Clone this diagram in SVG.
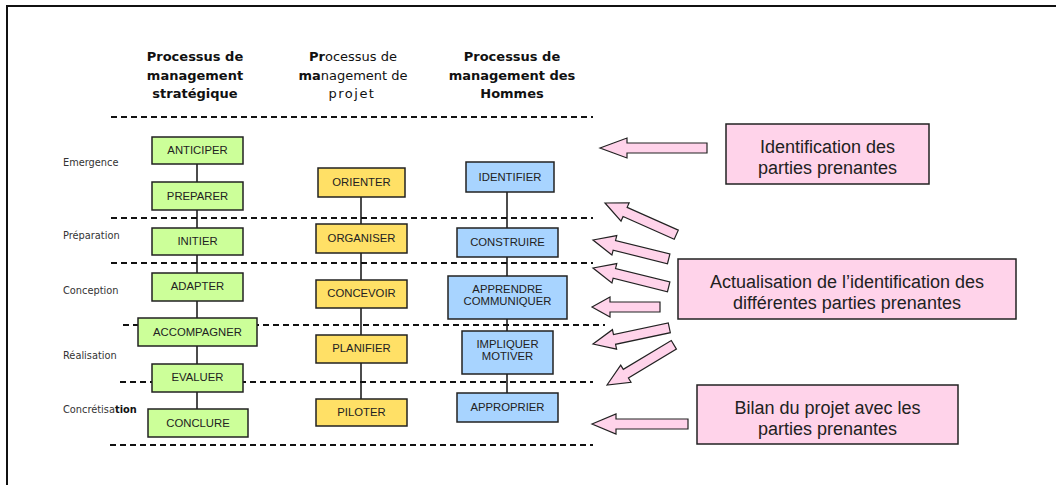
<svg xmlns="http://www.w3.org/2000/svg" width="1056" height="485" viewBox="0 0 1056 485">
<style>
.frame{fill:none;stroke:#111;stroke-width:2}
.dash{stroke:#111;stroke-width:2;stroke-dasharray:6,4;fill:none}
.vl{stroke:#111;stroke-width:1.5}
.hdr{font-family:"DejaVu Sans",sans-serif;font-size:13px;font-weight:bold;fill:#111;text-anchor:middle}
.hdrn{font-weight:normal}
.ph{font-family:"DejaVu Sans",sans-serif;font-size:9.8px;fill:#333}
.g{fill:#ccff99;stroke:#222;stroke-width:1.5}
.y{fill:#ffe066;stroke:#222;stroke-width:1.5}
.b{fill:#a8d4ff;stroke:#222;stroke-width:1.5}
.p{fill:#ffd3ea;stroke:#222;stroke-width:1.5}
.bt{font-family:"Liberation Sans",Arial,sans-serif;font-size:11.3px;fill:#222;text-anchor:middle}
.pt{font-family:"Liberation Sans",Arial,sans-serif;font-size:18px;fill:#222;text-anchor:middle}
.arr{fill:#ffd3ea;stroke:#222;stroke-width:1.2;stroke-linejoin:miter}
</style>
<rect x="0" y="0" width="1056" height="485" fill="#fff"/>
<path class="frame" d="M7,486 V6 H1057"/>

<g id="headers">
<text class="hdr" x="195" y="61">Processus de</text>
<text class="hdr" x="195" y="79.5">management</text>
<text class="hdr" x="195" y="98">stratégique</text>
<text class="hdr" x="353" y="61">Pr<tspan class="hdrn">ocessus de</tspan></text>
<text class="hdr" x="353" y="79.5">ma<tspan class="hdrn">nagement de</tspan></text>
<text class="hdr hdrn" x="352" y="98" letter-spacing="1.5">projet</text>
<text class="hdr" x="512" y="61">Processus de</text>
<text class="hdr" x="512" y="79.5">management des</text>
<text class="hdr" x="512" y="98">Hommes</text>
</g>

<g id="phases">
<text class="ph" x="63" y="166">Emergence</text>
<text class="ph" x="63" y="239">Préparation</text>
<text class="ph" x="63" y="294">Conception</text>
<text class="ph" x="63" y="359">Réalisation</text>
<text class="ph" x="63" y="413">Concrétisa<tspan font-weight="bold" fill="#111">tion</tspan></text>
</g>

<g id="separators">
<line class="dash" x1="111" y1="117" x2="593" y2="117"/>
<line class="dash" x1="111" y1="218" x2="593" y2="218"/>
<line class="dash" x1="111" y1="263" x2="593" y2="263"/>
<line class="dash" x1="123" y1="325" x2="605" y2="325"/>
<line class="dash" x1="120" y1="382" x2="593" y2="382"/>
<line class="dash" x1="110" y1="445" x2="593" y2="445"/>
</g>

<g id="connectors">
<line class="vl" x1="197" y1="164" x2="197" y2="409"/>
<line class="vl" x1="361" y1="197" x2="361" y2="399"/>
<line class="vl" x1="507" y1="192" x2="507" y2="393"/>
</g>

<g id="anticiper"><rect class="g" x="152" y="137" width="91" height="27"/><text class="bt" x="197.5" y="154">ANTICIPER</text></g>
<g id="preparer"><rect class="g" x="152" y="182" width="91" height="28"/><text class="bt" x="197.5" y="200">PREPARER</text></g>
<g id="initier"><rect class="g" x="152" y="228" width="91" height="27"/><text class="bt" x="197.5" y="245">INITIER</text></g>
<g id="adapter"><rect class="g" x="152" y="273" width="91" height="28"/><text class="bt" x="197.5" y="290">ADAPTER</text></g>
<g id="accompagner"><rect class="g" x="138" y="318" width="119" height="28"/><text class="bt" x="197.5" y="336">ACCOMPAGNER</text></g>
<g id="evaluer"><rect class="g" x="152" y="364" width="91" height="28"/><text class="bt" x="197.5" y="381">EVALUER</text></g>
<g id="conclure"><rect class="g" x="148" y="409" width="100" height="28"/><text class="bt" x="198" y="427">CONCLURE</text></g>

<g id="orienter"><rect class="y" x="318" y="168" width="87" height="29"/><text class="bt" x="361.5" y="186">ORIENTER</text></g>
<g id="organiser"><rect class="y" x="316" y="224" width="91" height="29"/><text class="bt" x="361.5" y="242">ORGANISER</text></g>
<g id="concevoir"><rect class="y" x="316" y="280" width="91" height="28"/><text class="bt" x="361.5" y="297">CONCEVOIR</text></g>
<g id="planifier"><rect class="y" x="316" y="335" width="91" height="28"/><text class="bt" x="361.5" y="352">PLANIFIER</text></g>
<g id="piloter"><rect class="y" x="316" y="399" width="91" height="27"/><text class="bt" x="361.5" y="416">PILOTER</text></g>

<g id="identifier"><rect class="b" x="466" y="162" width="88" height="30"/><text class="bt" x="510" y="181">IDENTIFIER</text></g>
<g id="construire"><rect class="b" x="457" y="228" width="101" height="29"/><text class="bt" x="507.5" y="246">CONSTRUIRE</text></g>
<g id="apprendre"><rect class="b" x="448" y="276" width="119" height="43"/><text class="bt" x="507.5" y="293">APPRENDRE</text><text class="bt" x="507.5" y="305">COMMUNIQUER</text></g>
<g id="impliquer"><rect class="b" x="462" y="331" width="91" height="43"/><text class="bt" x="507.5" y="348">IMPLIQUER</text><text class="bt" x="507.5" y="360">MOTIVER</text></g>
<g id="approprier"><rect class="b" x="457" y="393" width="101" height="29"/><text class="bt" x="507.5" y="411">APPROPRIER</text></g>

<g id="note-identification"><rect class="p" x="726" y="124" width="203" height="60"/><text class="pt" x="827.5" y="153">Identification des</text><text class="pt" x="827.5" y="174">parties prenantes</text></g>
<g id="note-actualisation"><rect class="p" x="678" y="259" width="338" height="60"/><text class="pt" x="847" y="288">Actualisation de l’identification des</text><text class="pt" x="847" y="309">différentes parties prenantes</text></g>
<g id="note-bilan"><rect class="p" x="697" y="385" width="261" height="59"/><text class="pt" x="827.5" y="414">Bilan du projet avec les</text><text class="pt" x="827.5" y="435">parties prenantes</text></g>

<g id="arrows">
<path class="arr" transform="translate(600,148)" d="M0,0 L27,-10 L27,-5 L107,-5 L107,5 L27,5 L27,10 Z"/>
<path class="arr" transform="translate(605,203) rotate(24)" d="M0,0 L22,-10 L22,-5 L78,-5 L78,5 L22,5 L22,10 Z"/>
<path class="arr" transform="translate(593,240) rotate(14)" d="M0,0 L22,-10 L22,-5 L78,-5 L78,5 L22,5 L22,10 Z"/>
<path class="arr" transform="translate(593,268) rotate(14)" d="M0,0 L22,-10 L22,-5 L78,-5 L78,5 L22,5 L22,10 Z"/>
<path class="arr" transform="translate(592,307)" d="M0,0 L18,-10 L18,-5 L68,-5 L68,5 L18,5 L18,10 Z"/>
<path class="arr" transform="translate(593,344) rotate(-12)" d="M0,0 L22,-10 L22,-5 L78,-5 L78,5 L22,5 L22,10 Z"/>
<path class="arr" transform="translate(607,385) rotate(-31)" d="M0,0 L22,-10 L22,-5 L78,-5 L78,5 L22,5 L22,10 Z"/>
<path class="arr" transform="translate(592,424)" d="M0,0 L24,-10 L24,-5 L96,-5 L96,5 L24,5 L24,10 Z"/>
</g>
</svg>
